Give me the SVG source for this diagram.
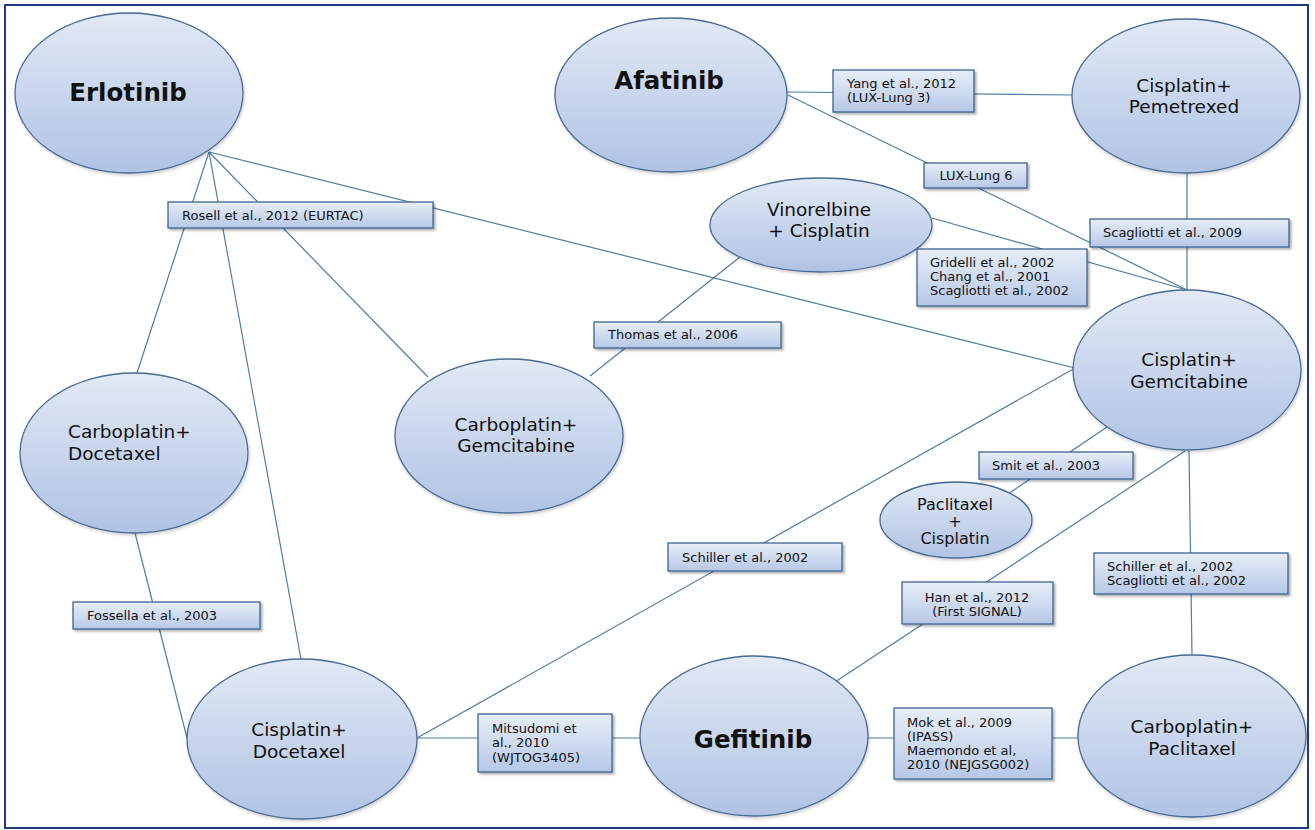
<svg xmlns="http://www.w3.org/2000/svg" width="1315" height="830" viewBox="0 0 1315 830">
<style>
.node{fill:url(#ng);stroke:#4a6a94;stroke-width:1.3;filter:url(#sh)}
.box{fill:url(#bg);stroke:#3d6391;stroke-width:1.3;filter:url(#sh2)}
.ln{stroke:#4d7ea3;stroke-width:1.2;fill:none}
.t{font-family:"DejaVu Sans","Liberation Sans",sans-serif;fill:#111}
.big{font-size:24.5px;font-weight:bold;text-anchor:middle}
.nt{font-size:18.5px;text-anchor:middle}
.lt{font-size:13px}
</style>
<defs>
<linearGradient id="ng" x1="0" y1="0" x2="0" y2="1">
<stop offset="0" stop-color="#e2e9f6"/>
<stop offset="1" stop-color="#b0c3e4"/>
</linearGradient>
<linearGradient id="bg" x1="0" y1="0" x2="0" y2="1">
<stop offset="0" stop-color="#e8eef8"/>
<stop offset="1" stop-color="#b6c8e7"/>
</linearGradient>
<filter id="sh" x="-10%" y="-10%" width="125%" height="130%">
<feDropShadow dx="1" dy="2" stdDeviation="1.5" flood-color="#000" flood-opacity="0.18"/>
</filter>
<filter id="sh2" x="-10%" y="-20%" width="125%" height="160%">
<feDropShadow dx="2" dy="2" stdDeviation="1.2" flood-color="#000" flood-opacity="0.3"/>
</filter>
</defs>
<rect x="0" y="0" width="1315" height="830" fill="#fff"/>
<rect x="5" y="5" width="1303" height="823" fill="none" stroke="#1f3a80" stroke-width="2"/>

<g id="connectors">
<line class="ln" x1="209" y1="152" x2="137" y2="373"/>
<line class="ln" x1="209" y1="152" x2="301" y2="659"/>
<line class="ln" x1="209" y1="152" x2="428" y2="377"/>
<line class="ln" x1="209" y1="152" x2="1075" y2="368"/>
<line class="ln" x1="787" y1="92" x2="1072" y2="95"/>
<line class="ln" x1="788" y1="95" x2="1187" y2="290"/>
<line class="ln" x1="932" y1="218" x2="1187" y2="290"/>
<line class="ln" x1="1187" y1="173" x2="1187" y2="290"/>
<line class="ln" x1="740" y1="257" x2="590" y2="376"/>
<line class="ln" x1="1075" y1="368" x2="417" y2="738"/>
<line class="ln" x1="1107" y1="427" x2="1008" y2="494"/>
<line class="ln" x1="1185" y1="451" x2="835" y2="682"/>
<line class="ln" x1="1189" y1="451" x2="1192" y2="655"/>
<line class="ln" x1="417" y1="738" x2="640" y2="738"/>
<line class="ln" x1="868" y1="738" x2="1078" y2="738"/>
<line class="ln" x1="135" y1="533" x2="187" y2="738"/>
</g>

<g id="erlotinib">
<ellipse class="node" cx="129" cy="93" rx="114" ry="80"/>
<text class="t big" x="128" y="101">Erlotinib</text>
</g>
<g id="afatinib">
<ellipse class="node" cx="671" cy="95" rx="116" ry="77"/>
<text class="t big" x="669" y="89">Afatinib</text>
</g>
<g id="cis-pem">
<ellipse class="node" cx="1186" cy="96" rx="114" ry="77"/>
<text class="t nt" x="1184" y="92">Cisplatin+</text>
<text class="t nt" x="1184" y="113">Pemetrexed</text>
</g>
<g id="vin-cis">
<ellipse class="node" cx="821" cy="225" rx="111" ry="47"/>
<text class="t nt" x="819" y="216">Vinorelbine</text>
<text class="t nt" x="819" y="237">+ Cisplatin</text>
</g>
<g id="cis-gem">
<ellipse class="node" cx="1187" cy="370" rx="114" ry="80"/>
<text class="t nt" x="1189" y="366">Cisplatin+</text>
<text class="t nt" x="1189" y="388">Gemcitabine</text>
</g>
<g id="carbo-gem">
<ellipse class="node" cx="509" cy="436" rx="114" ry="77"/>
<text class="t nt" x="516" y="431">Carboplatin+</text>
<text class="t nt" x="516" y="452">Gemcitabine</text>
</g>
<g id="carbo-doc">
<ellipse class="node" cx="134" cy="453" rx="114" ry="80"/>
<text class="t nt" x="68" y="438" style="text-anchor:start">Carboplatin+</text>
<text class="t nt" x="68" y="460" style="text-anchor:start">Docetaxel</text>
</g>
<g id="pac-cis">
<ellipse class="node" cx="956" cy="520" rx="76" ry="38"/>
<text class="t" x="955" y="510" font-size="16" text-anchor="middle">Paclitaxel</text>
<text class="t" x="955" y="527" font-size="16" text-anchor="middle">+</text>
<text class="t" x="955" y="544" font-size="16" text-anchor="middle">Cisplatin</text>
</g>
<g id="cis-doc">
<ellipse class="node" cx="302" cy="739" rx="115" ry="80"/>
<text class="t nt" x="299" y="736">Cisplatin+</text>
<text class="t nt" x="299" y="758">Docetaxel</text>
</g>
<g id="gefitinib">
<ellipse class="node" cx="754" cy="736" rx="114" ry="80"/>
<text class="t big" x="753" y="748">Gefitinib</text>
</g>
<g id="carbo-pac">
<ellipse class="node" cx="1192" cy="736" rx="114" ry="81"/>
<text class="t nt" x="1192" y="733">Carboplatin+</text>
<text class="t nt" x="1192" y="755">Paclitaxel</text>
</g>

<g id="lbl-rosell">
<rect class="box" x="168" y="202" width="265" height="26"/>
<text class="t lt" x="182" y="220">Rosell et al., 2012 (EURTAC)</text>
</g>
<g id="lbl-yang">
<rect class="box" x="833" y="70" width="141" height="42"/>
<text class="t lt" x="847" y="88">Yang et al., 2012</text>
<text class="t lt" x="847" y="102">(LUX-Lung 3)</text>
</g>
<g id="lbl-lux6">
<rect class="box" x="924" y="163" width="103" height="25"/>
<text class="t lt" x="976" y="180" text-anchor="middle">LUX-Lung 6</text>
</g>
<g id="lbl-scag2009">
<rect class="box" x="1090" y="219" width="199" height="28"/>
<text class="t lt" x="1103" y="237">Scagliotti et al., 2009</text>
</g>
<g id="lbl-gridelli">
<rect class="box" x="917" y="249" width="170" height="57"/>
<text class="t lt" x="930" y="267">Gridelli et al., 2002</text>
<text class="t lt" x="930" y="281">Chang et al., 2001</text>
<text class="t lt" x="930" y="295">Scagliotti et al., 2002</text>
</g>
<g id="lbl-thomas">
<rect class="box" x="594" y="322" width="187" height="26"/>
<text class="t lt" x="608" y="339">Thomas et al., 2006</text>
</g>
<g id="lbl-smit">
<rect class="box" x="979" y="452" width="154" height="27"/>
<text class="t lt" x="992" y="470">Smit et al., 2003</text>
</g>
<g id="lbl-schiller">
<rect class="box" x="668" y="543" width="174" height="28"/>
<text class="t lt" x="682" y="562">Schiller et al., 2002</text>
</g>
<g id="lbl-han">
<rect class="box" x="902" y="582" width="151" height="42"/>
<text class="t lt" x="977" y="602" text-anchor="middle">Han et al., 2012</text>
<text class="t lt" x="977" y="616" text-anchor="middle">(First SIGNAL)</text>
</g>
<g id="lbl-schiller-scag">
<rect class="box" x="1094" y="553" width="194" height="41"/>
<text class="t lt" x="1107" y="571">Schiller et al., 2002</text>
<text class="t lt" x="1107" y="585">Scagliotti et al., 2002</text>
</g>
<g id="lbl-mok">
<rect class="box" x="894" y="708" width="158" height="71"/>
<text class="t lt" x="907" y="727">Mok et al., 2009</text>
<text class="t lt" x="907" y="741">(IPASS)</text>
<text class="t lt" x="907" y="755">Maemondo  et al,</text>
<text class="t lt" x="907" y="769">2010 (NEJGSG002)</text>
</g>
<g id="lbl-mitsudomi">
<rect class="box" x="478" y="714" width="134" height="58"/>
<text class="t lt" x="492" y="733">Mitsudomi et</text>
<text class="t lt" x="492" y="747">al., 2010</text>
<text class="t lt" x="492" y="762">(WJTOG3405)</text>
</g>
<g id="lbl-fossella">
<rect class="box" x="73" y="602" width="187" height="27"/>
<text class="t lt" x="87" y="620">Fossella et al., 2003</text>
</g>
</svg>
